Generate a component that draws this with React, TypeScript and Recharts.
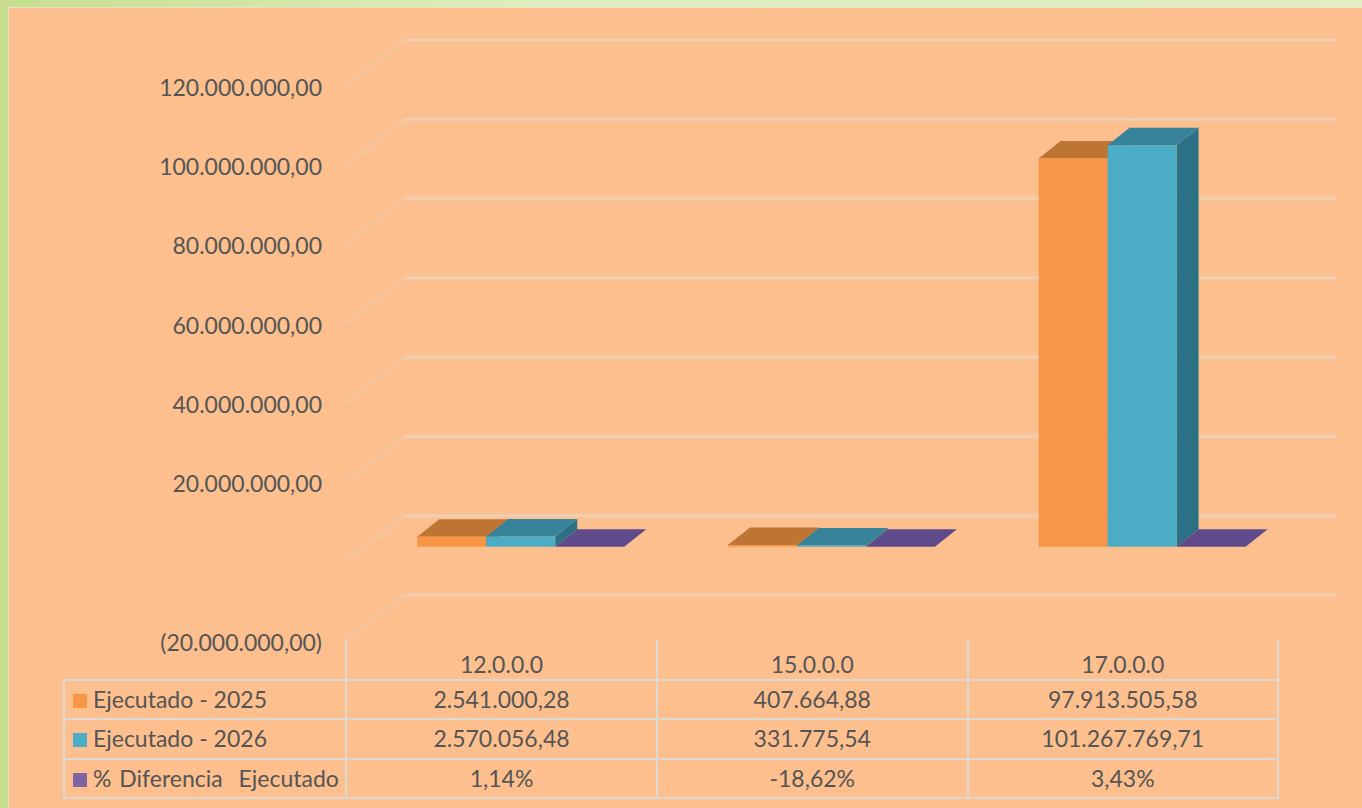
import { Bar, BarChart, CartesianGrid, YAxis } from "recharts";

const categories = ["12.0.0.0", "15.0.0.0", "17.0.0.0"];
const ejecutado2025 = [2541000.28, 407664.88, 97913505.58];
const ejecutado2026 = [2570056.48, 331775.54, 101267769.71];
const diferencia = [0.0114, -0.1862, 0.0343];

const labels2025 = ["2.541.000,28", "407.664,88", "97.913.505,58"];
const labels2026 = ["2.570.056,48", "331.775,54", "101.267.769,71"];
const labelsDiferencia = ["1,14%", "-18,62%", "3,43%"];

const yTicks = [-20000000, 0, 20000000, 40000000, 60000000, 80000000, 100000000, 120000000];
const yTickLabels = ["(20.000.000,00)", "", "20.000.000,00", "40.000.000,00", "60.000.000,00", "80.000.000,00", "100.000.000,00", "120.000.000,00"];

const chartData = categories.map((name, i) => ({
  name,
  a: ejecutado2025[i],
  b: ejecutado2026[i],
  c: diferencia[i],
}));

const tableRows = [
  { name: "Ejecutado - 2025", color: "#F79646", cells: labels2025 },
  { name: "Ejecutado - 2026", color: "#4BACC6", cells: labels2026 },
  { name: "% Diferencia  Ejecutado", color: "#8064A2", cells: labelsDiferencia },
];

const FONT = "Lato, 'Open Sans', sans-serif";
const TEXT = "#555555";
const BG = "#FCBF8D";
const BORDER = "#DCD8D2";

// fake 3d: depth of a bar and how far the bars sit off the centre of the band
const DX = 22;
const DY = 17.5;
const SHIFT = 20;

function make3dBar(front: string, top: string, side: string) {
  return function Bar3d(props: any) {
    const x = props.x + SHIFT;
    const w = props.width;
    const h = Math.abs(props.height);
    const y = props.height < 0 ? props.y + props.height : props.y;
    return (
      <g>
        <polygon
          points={`${x + w},${y} ${x + w + DX},${y - DY} ${x + w + DX},${y + h - DY} ${x + w},${y + h}`}
          fill={side}
        />
        <polygon
          points={`${x},${y} ${x + DX},${y - DY} ${x + w + DX},${y - DY} ${x + w},${y}`}
          fill={top}
        />
        <rect x={x} y={y} width={w} height={h} fill={front} />
      </g>
    );
  };
}

function GridLine(props: any) {
  const { x1, x2, y1 } = props;
  const backY = y1 - 31;
  return (
    <g>
      <line x1={x1 + 59} x2={x2 + 58} y1={backY} y2={backY} stroke="#F3C7A2" strokeWidth={7} opacity={0.4} />
      <line x1={x1 + 59} x2={x2 + 58} y1={backY} y2={backY} stroke="#F1CFB4" strokeWidth={2.5} />
      <line x1={x1 - 1} x2={x1 + 59} y1={y1 + 15} y2={backY} stroke="#F6CCA8" strokeWidth={6} opacity={0.4} />
    </g>
  );
}

function YTick(props: any) {
  const { x, y, payload } = props;
  const i = yTicks.indexOf(payload.value);
  return (
    <text x={x} y={y + 19} textAnchor="end" dominantBaseline="middle" fontSize={23} fontFamily={FONT} fill={TEXT}>
      {yTickLabels[i]}
    </text>
  );
}

const cellStyle = {
  border: `2px solid ${BORDER}`,
  padding: 0,
  textAlign: "center" as const,
  height: 39.5,
  boxSizing: "border-box" as const,
};

export default function App() {
  return (
    <div
      style={{
        position: "absolute",
        left: 0,
        top: 0,
        width: 1362,
        height: 808,
        overflow: "hidden",
        background: "linear-gradient(90deg, #C5DF8F 0%, #DFEEC0 40%, #E0EEC2 100%)",
      }}
    >
      <div
        style={{
          position: "absolute",
          left: 8,
          top: 7,
          width: 1354,
          height: 801,
          background: BG,
          borderLeft: "1px solid #E6E0C8",
          borderTop: "1px solid #E6E0C8",
          boxSizing: "border-box",
        }}
      />
      <div style={{ position: "absolute", left: 0, top: 0 }}>
        <BarChart
          width={1362}
          height={808}
          data={chartData}
          margin={{ top: 71, right: 84, bottom: 182, left: 0 }}
          barCategoryGap="16.5%"
          barGap={0}
        >
          <CartesianGrid vertical={false} horizontal={GridLine} horizontalValues={yTicks} />
          <YAxis
            width={346}
            domain={[-20000000, 120000000]}
            ticks={yTicks}
            interval={0}
            axisLine={false}
            tickLine={false}
            tickSize={0}
            tickMargin={24}
            tick={YTick}
          />
          <Bar dataKey="a" isAnimationActive={false} shape={make3dBar("#F79646", "#BE7433", "#B66D2E")} />
          <Bar dataKey="b" isAnimationActive={false} shape={make3dBar("#4BACC6", "#37849A", "#2C7086")} />
          <Bar dataKey="c" isAnimationActive={false} shape={make3dBar("#8064A2", "#5F4A8B", "#4F3D78")} />
        </BarChart>
      </div>
      <table
        style={{
          position: "absolute",
          left: 63,
          top: 640,
          width: 1214,
          tableLayout: "fixed",
          borderCollapse: "collapse",
          fontFamily: FONT,
          fontSize: 23,
          color: TEXT,
          lineHeight: 1,
        }}
      >
        <colgroup>
          <col style={{ width: 282 }} />
          <col style={{ width: 311 }} />
          <col style={{ width: 310.5 }} />
          <col style={{ width: 310.5 }} />
        </colgroup>
        <tbody>
          <tr>
            <td style={{ padding: 0, height: 39.5, boxSizing: "border-box" }} />
            {categories.map((c) => (
              <td key={c} style={{ ...cellStyle, borderTop: "none", paddingTop: 11 }}>
                {c}
              </td>
            ))}
          </tr>
          {tableRows.map((row) => (
            <tr key={row.name}>
              <td
                style={{
                  ...cellStyle,
                  textAlign: "left",
                  whiteSpace: "pre",
                  wordSpacing: row.name.startsWith("%") ? 2 : 0,
                }}
              >
                <span
                  style={{
                    display: "inline-block",
                    width: 14,
                    height: 14,
                    marginLeft: 8,
                    marginRight: 6,
                    background: row.color,
                  }}
                />
                {row.name}
              </td>
              {row.cells.map((v, i) => (
                <td key={i} style={cellStyle}>
                  {v}
                </td>
              ))}
            </tr>
          ))}
        </tbody>
      </table>
    </div>
  );
}
